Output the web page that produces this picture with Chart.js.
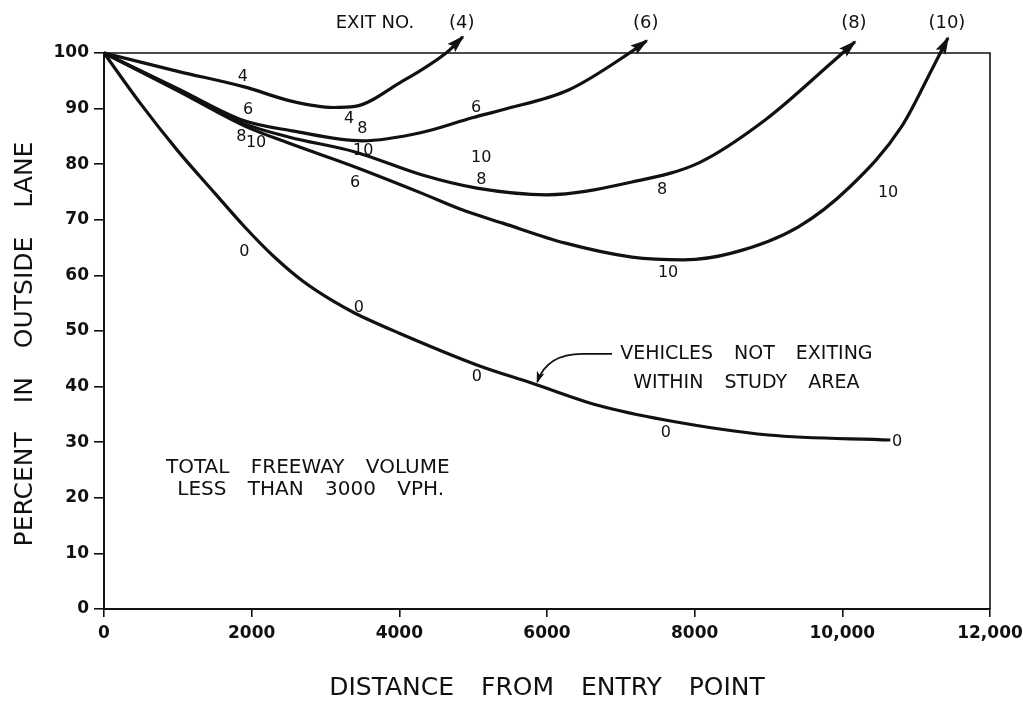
<!DOCTYPE html>
<html>
<head>
<meta charset="utf-8">
<script src="https://cdn.jsdelivr.net/npm/chart.js@4.4.1/dist/chart.umd.min.js"></script>
<style>
  html, body { margin: 0; padding: 0; background: #ffffff; }
  canvas { display: block; }
</style>
</head>
<body>
<canvas id="chart" width="1023" height="705"></canvas>
<script>
// Share of vehicles in the outside lane against distance from the entry point,
// one curve per exit number (0 = vehicles not exiting within the study area).
const exit0Dist  = [0, 500, 1000, 1500, 1900, 2300, 2700, 3100, 3400, 4000, 5050, 5800, 6700, 7600, 9000, 10650];
const exit0Pct   = [100, 90.8, 82.4, 74.8, 68.8, 63.4, 58.9, 55.4, 53.2, 49.6, 43.9, 40.6, 36.6, 34.0, 31.3, 30.4];

const exit4Dist  = [0, 1000, 1900, 2550, 3100, 3400, 4000, 4650, 4860];
const exit4Pct   = [100, 96.7, 93.9, 91.3, 90.2, 90.4, 94.6, 100.2, 102.9];

const exit6Dist  = [0, 1000, 1900, 2550, 3500, 4300, 5000, 5400, 6300, 7150, 7350];
const exit6Pct   = [100, 93.6, 87.8, 86.0, 84.2, 85.7, 88.4, 89.8, 93.4, 100.3, 102.2];

const exit8Dist  = [0, 1000, 1900, 2500, 3400, 4300, 5050, 6000, 7150, 8050, 8950, 9850, 10170];
const exit8Pct   = [100, 93.4, 87.3, 84.9, 82.2, 78.1, 75.7, 74.5, 76.8, 80.2, 87.9, 98.2, 102.0];

const exit10Dist = [0, 1000, 1900, 2500, 3400, 4300, 4850, 5400, 6250, 7150, 7850, 8500, 9400, 10100, 10800, 11230, 11430];
const exit10Pct  = [100, 93.2, 86.9, 83.8, 79.5, 74.8, 71.8, 69.4, 65.8, 63.3, 62.8, 64.0, 68.7, 75.9, 86.7, 97.5, 102.7];

// Observed points, plotted with the exit number as the symbol
const markerDist = [1880, 1950, 1860, 2060, 3320, 3500, 3510, 3400, 5040, 5110, 5110, 7560, 7640, 10620,
                    1900, 3450, 5050, 7610, 10740];
const markerPct  = [95.7, 89.7, 84.9, 83.8, 88.1, 86.3, 82.4, 76.6, 90.1, 81.1, 77.2, 75.4, 60.4, 74.8,
                    64.2, 54.1, 41.7, 31.7, 30.0];
const markerText = ['4', '6', '8', '10', '4', '8', '10', '6', '6', '10', '8', '8', '10', '10',
                    '0', '0', '0', '0', '0'];

const xTickValues = [0, 2000, 4000, 6000, 8000, 10000, 12000];
const xTickLabels = ['0', '2000', '4000', '6000', '8000', '10,000', '12,000'];
const yTickLabels = ['0', '10', '20', '30', '40', '50', '60', '70', '80', '90', '100'];

const exitHeadings = ['(4)', '(6)', '(8)', '(10)'];

const INK = '#111111';
const FONT = "'DejaVu Sans', 'Liberation Sans', sans-serif";

function pairs(xs, ys) { return xs.map((x, i) => ({ x: x, y: ys[i] })); }

function curve(label, xs, ys, arrow) {
  return {
    label: label,
    data: pairs(xs, ys),
    showLine: true,
    borderColor: INK,
    borderWidth: 3.2,
    pointRadius: 0,
    pointHoverRadius: 0,
    cubicInterpolationMode: 'monotone',
    fill: false,
    clip: false,
    arrow: arrow
  };
}

// Text notes placed in data units
const notes = [
  { text: 'TOTAL FREEWAY VOLUME', x: 2760, y: 25.4, size: 20 },
  { text: 'LESS THAN 3000 VPH.',  x: 2800, y: 21.4, size: 20 },
  { text: 'VEHICLES NOT EXITING', x: 8700, y: 45.9, size: 19 },
  { text: 'WITHIN STUDY AREA',    x: 8700, y: 40.6, size: 19 }
];
const leader = { start: [6880, 45.9], bend: [6480, 45.9], ctrl: [6000, 45.9], tip: [5870, 40.9] };

function arrowHead(ctx, x, y, dx, dy, len, half) {
  const d = Math.hypot(dx, dy) || 1;
  const ux = dx / d, uy = dy / d;
  const bx = x - ux * len, by = y - uy * len;
  ctx.beginPath();
  ctx.moveTo(x + ux * 2, y + uy * 2);
  ctx.lineTo(bx - uy * half, by + ux * half);
  ctx.lineTo(bx + ux * 3, by + uy * 3);
  ctx.lineTo(bx + uy * half, by - ux * half);
  ctx.closePath();
  ctx.fill();
}

const inkPlugin = {
  id: 'ink',
  afterDatasetsDraw(chart) {
    const ctx = chart.ctx;
    const a = chart.chartArea;
    const xs = chart.scales.x, ys = chart.scales.y;
    ctx.save();
    ctx.strokeStyle = INK;
    ctx.fillStyle = INK;

    // top and right edges of the frame
    ctx.lineWidth = 1.6;
    ctx.beginPath();
    ctx.moveTo(a.left, a.top);
    ctx.lineTo(a.right, a.top);
    ctx.lineTo(a.right, a.bottom);
    ctx.stroke();

    // arrowheads and exit headings at the end of each exit curve
    ctx.font = '18px ' + FONT;
    ctx.textAlign = 'center';
    ctx.textBaseline = 'middle';
    let h = 0;
    chart.data.datasets.forEach((ds, i) => {
      if (!ds.arrow) return;
      const pts = chart.getDatasetMeta(i).data;
      const p = pts[pts.length - 1];
      let dx = p.x - p.cp1x, dy = p.y - p.cp1y;
      if (!isFinite(dx) || Math.hypot(dx, dy) < 1) {
        const q = pts[pts.length - 2];
        dx = p.x - q.x; dy = p.y - q.y;
      }
      arrowHead(ctx, p.x, p.y, dx, dy, 16, 5.5);
      ctx.fillText(exitHeadings[h++], p.x - 1, ys.getPixelForValue(105.4));
    });
    ctx.textAlign = 'right';
    ctx.fillText('EXIT NO.', xs.getPixelForValue(4200), ys.getPixelForValue(105.4));

    // exit-number symbols at the observed points
    ctx.font = '16px ' + FONT;
    ctx.textAlign = 'center';
    chart.data.datasets.forEach((ds, i) => {
      if (!ds.marks) return;
      chart.getDatasetMeta(i).data.forEach((el, j) => {
        ctx.fillText(ds.marks[j], el.x, el.y);
      });
    });

    // notes
    try { ctx.wordSpacing = '15px'; } catch (e) {}
    notes.forEach(n => {
      ctx.font = n.size + 'px ' + FONT;
      ctx.fillText(n.text, xs.getPixelForValue(n.x), ys.getPixelForValue(n.y));
    });
    try { ctx.wordSpacing = '0px'; } catch (e) {}

    // leader from the note to the curve of non-exiting vehicles
    const P = v => [xs.getPixelForValue(v[0]), ys.getPixelForValue(v[1])];
    const s = P(leader.start), b = P(leader.bend), c = P(leader.ctrl), t = P(leader.tip);
    ctx.lineWidth = 1.8;
    ctx.beginPath();
    ctx.moveTo(s[0], s[1]);
    ctx.lineTo(b[0], b[1]);
    ctx.quadraticCurveTo(c[0], c[1], t[0], t[1]);
    ctx.stroke();
    arrowHead(ctx, t[0], t[1], t[0] - c[0], t[1] - c[1], 10, 4);

    // axis titles
    ctx.font = '25px ' + FONT;
    ctx.textAlign = 'center';
    try { ctx.wordSpacing = '19px'; } catch (e) {}
    ctx.fillText('DISTANCE FROM ENTRY POINT', (a.left + a.right) / 2, a.bottom + 79);
    try { ctx.wordSpacing = '21px'; } catch (e) {}
    ctx.translate(25, (a.top + a.bottom) / 2 + 13);
    ctx.rotate(-Math.PI / 2);
    ctx.fillText('PERCENT IN OUTSIDE LANE', 0, 0);
    ctx.restore();
  }
};

new Chart(document.getElementById('chart'), {
  type: 'scatter',
  data: {
    datasets: [
      curve('0', exit0Dist, exit0Pct, false),
      curve('4', exit4Dist, exit4Pct, true),
      curve('6', exit6Dist, exit6Pct, true),
      curve('8', exit8Dist, exit8Pct, true),
      curve('10', exit10Dist, exit10Pct, true),
      {
        label: 'points',
        data: pairs(markerDist, markerPct),
        marks: markerText,
        showLine: false,
        pointRadius: 0,
        pointHoverRadius: 0,
        clip: false
      }
    ]
  },
  options: {
    responsive: false,
    devicePixelRatio: 1,
    animation: false,
    events: [],
    layout: { padding: { left: 0, top: 53, right: 33, bottom: 0 } },
    plugins: { legend: { display: false }, tooltip: { enabled: false } },
    scales: {
      x: {
        type: 'linear',
        min: 0, max: 12000,
        afterFit(scale) { scale.height = 96; scale.paddingLeft = 0; scale.paddingRight = 0; },
        afterBuildTicks(scale) { scale.ticks = xTickValues.map(v => ({ value: v })); },
        ticks: {
          color: INK,
          padding: 6,
          maxRotation: 0,
          autoSkip: false,
          font: { family: FONT, size: 17, weight: 'bold' },
          callback(value) { return xTickLabels[xTickValues.indexOf(value)]; }
        },
        grid: { drawOnChartArea: false, drawTicks: true, tickLength: 8, color: INK, lineWidth: 1.6 },
        border: { display: true, color: INK, width: 2 },
        title: { display: false }
      },
      y: {
        type: 'linear',
        min: 0, max: 100,
        afterFit(scale) { scale.width = 104; scale.paddingTop = 0; scale.paddingBottom = 0; },
        ticks: {
          color: INK,
          stepSize: 10,
          padding: 5,
          font: { family: FONT, size: 17, weight: 'bold' },
          callback(value) { return yTickLabels[Math.round(value / 10)]; }
        },
        grid: { drawOnChartArea: false, drawTicks: true, tickLength: 10, color: INK, lineWidth: 1.6 },
        border: { display: true, color: INK, width: 2 },
        title: { display: false }
      }
    }
  },
  plugins: [inkPlugin]
});
</script>
</body>
</html>
